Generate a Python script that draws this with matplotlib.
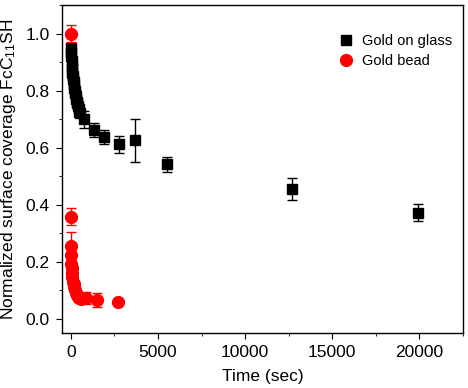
import matplotlib
matplotlib.use("Agg")
import matplotlib.pyplot as plt
from matplotlib.ticker import MultipleLocator

plt.rcParams['font.family'] = ['Liberation Sans', 'DejaVu Sans']
plt.rcParams['mathtext.fontset'] = 'custom'
plt.rcParams['mathtext.rm'] = 'Liberation Sans'
plt.rcParams['mathtext.it'] = 'Liberation Sans'

# Gold on glass (dense early points, no error bars)
glass_t_dense = [0, 15, 30, 45, 60, 80, 100, 120, 140, 160, 180, 200, 230, 260, 290, 320, 350, 380, 420, 460, 500, 550]
glass_v_dense = [0.95, 0.935, 0.92, 0.905, 0.89, 0.875, 0.86, 0.85, 0.84, 0.83, 0.82, 0.81, 0.80, 0.79,
                 0.78, 0.77, 0.76, 0.755, 0.745, 0.735, 0.725, 0.72]
# Gold on glass (later points with error bars)
glass_t = [750, 1330, 1900, 2750, 3700, 5500, 12700, 19900]
glass_v = [0.70, 0.663, 0.637, 0.612, 0.625, 0.541, 0.455, 0.371]
glass_err = [0.03, 0.025, 0.025, 0.03, 0.075, 0.025, 0.04, 0.03]

# Gold bead
bead_t = [0, 0, 0, 20, 40, 60, 80, 100, 130, 160, 200, 250, 300, 350, 420, 500, 580, 900, 1500, 2700]
bead_v = [1.0, 0.357, 0.255, 0.222, 0.19, 0.177, 0.16, 0.145, 0.13, 0.12, 0.11, 0.10, 0.09, 0.082,
          0.076, 0.071, 0.068, 0.072, 0.065, 0.057]
bead_err = [0.03, 0.03, 0.05, 0, 0, 0, 0, 0, 0, 0, 0, 0, 0, 0, 0, 0, 0, 0.02, 0.025, 0]

fig = plt.figure(figsize=(4.68, 3.88), dpi=100)
ax = fig.add_axes([0.1325, 0.142, 0.857, 0.845])

ax.errorbar(glass_t, glass_v, yerr=glass_err, fmt='s', color='black', ms=7.2,
            capsize=3.5, elinewidth=1, capthick=1, zorder=3)
ax.plot(glass_t_dense, glass_v_dense, 's', color='black', ms=7.2, zorder=3, label='Gold on glass')
ax.errorbar(bead_t, bead_v, yerr=bead_err, fmt='o', color='red', ms=8.5,
            capsize=3.5, elinewidth=1, capthick=1, zorder=4)
ax.plot([], [], 'o', color='red', ms=8.5, label='Gold bead')

ax.set_xlim(-500, 22500)
ax.set_ylim(-0.05, 1.1)
ax.xaxis.set_major_locator(MultipleLocator(5000))
ax.xaxis.set_minor_locator(MultipleLocator(2500))
ax.yaxis.set_major_locator(MultipleLocator(0.2))
ax.yaxis.set_minor_locator(MultipleLocator(0.1))
ax.yaxis.set_major_formatter(matplotlib.ticker.FormatStrFormatter('%.1f'))
ax.tick_params(which='both', direction='out', labelsize=12.5, top=False, right=False)
ax.tick_params(which='major', length=4, pad=5)
ax.tick_params(which='minor', length=2.5)
for s in ax.spines.values():
    s.set_linewidth(1)

ax.set_xlabel('Time (sec)', fontsize=12.5, labelpad=6)
ax.set_ylabel('Normalized surface coverage FcC$_{11}$SH', fontsize=12.5, labelpad=5)

ax.legend(loc='upper right', bbox_to_anchor=(0.987, 0.93), frameon=False, fontsize=10.5,
          handletextpad=0.5, borderaxespad=0.0, labelspacing=0.4, handlelength=1.2)

fig.savefig('out.png', dpi=100)
